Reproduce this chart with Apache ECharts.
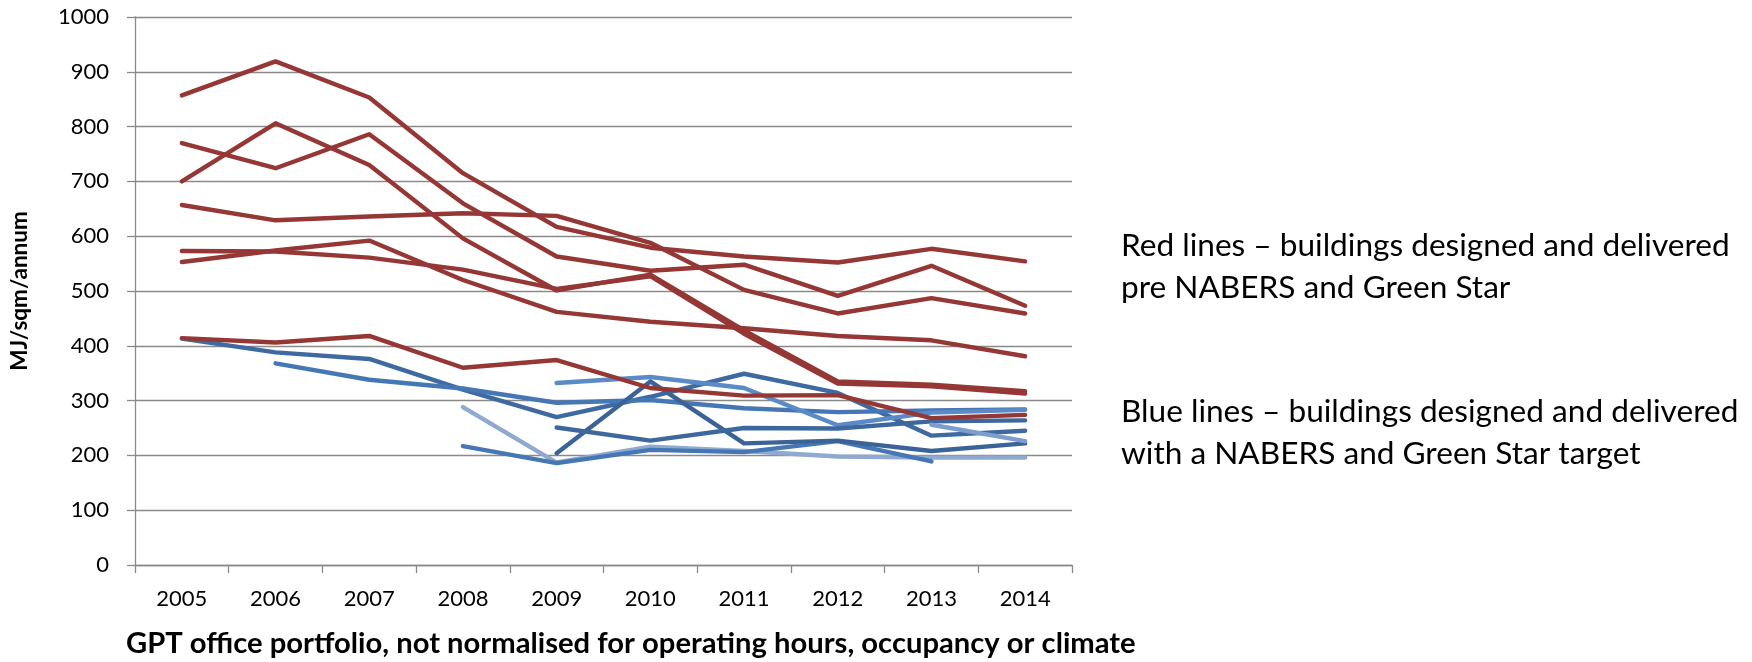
<!DOCTYPE html>
<html>
<head>
<meta charset="utf-8">
<script src="https://cdn.jsdelivr.net/npm/echarts@6/dist/echarts.min.js"></script>
<style>
  html, body { margin: 0; padding: 0; background: #ffffff; }
  #chart { width: 1752px; height: 662px; }
</style>
</head>
<body>
<div id="chart"></div>
<script>
// Energy intensity (MJ/sqm/annum) per building, 2005-2014
const years = ['2005', '2006', '2007', '2008', '2009', '2010', '2011', '2012', '2013', '2014'];

// Buildings designed and delivered pre NABERS and Green Star
const redA = [857, 919, 853, 715, 617, 579, 563, 552, 577, 554];
const redB = [770, 724, 786, 660, 563, 537, 548, 491, 546, 473];
const redC = [657, 629, 636, 642, 637, 588, 502, 459, 487, 459];
const redD = [700, 806, 730, 596, 501, 530, 428, 335, 329, 317];
const redE = [573, 572, 561, 539, 504, 527, 422, 331, 326, 313];
const redF = [553, 574, 592, 520, 462, 444, 432, 418, 410, 381];
const redG = [414, 406, 418, 360, 374, 323, 309, 310, 268, 274];

// Buildings designed and delivered with a NABERS and Green Star target
const blueA = [413, 388, 376, 320, 270, 307, 349, 314, 236, 245];
const blueB = [null, 368, 338, 322, 296, 301, 286, 279, 282, 284];
const blueC = [null, null, null, 288, 187, 216, 208, 198, 196, 196];
const blueD = [null, null, null, 217, 186, 210, 206, 226, 189, null];
const blueE = [null, null, null, null, 332, 343, 323, 255, 278, 283];
const blueF = [null, null, null, null, 204, 335, 222, 227, 208, 222];
const blueG = [null, null, null, null, 251, 227, 250, 249, 262, 264];
const blueH = [null, null, null, null, null, null, null, null, 256, 226];

const yTicks = { min: 0, max: 1000, step: 100 };

const RED = '#953735';
const blueSet = [
  [blueA, '#3e6aa1'],
  [blueB, '#4677b5'],
  [blueC, '#8fa9d1'],
  [blueD, '#4677b5'],
  [blueE, '#5b8bc7'],
  [blueF, '#3a6498'],
  [blueG, '#3d689e'],
  [blueH, '#7d9dcc']
];
const redSet = [redA, redB, redC, redD, redE, redF, redG];

const FONT = 'Lato';
const GRID_COLOR = '#8a8a8a';

function lineSeries(data, color) {
  return {
    type: 'line',
    data: data,
    symbol: 'none',
    connectNulls: false,
    silent: true,
    lineStyle: { color: color, width: 4.4, cap: 'round', join: 'round' }
  };
}

const series = [];
blueSet.forEach(([d, c]) => series.push(lineSeries(d, c)));
redSet.forEach(d => series.push(lineSeries(d, RED)));

const chart = echarts.init(document.getElementById('chart'), null, { renderer: 'canvas' });
chart.setOption({
  animation: false,
  backgroundColor: '#ffffff',
  grid: { left: 124, right: 680, top: 17, bottom: 97, containLabel: false },
  xAxis: {
    type: 'category',
    data: years,
    boundaryGap: true,
    axisLine: { show: true, lineStyle: { color: GRID_COLOR, width: 1.3 } },
    axisTick: { show: true, length: 8, interval: 0, lineStyle: { color: GRID_COLOR, width: 1.3 } },
    axisLabel: { margin: 23, color: '#000000', fontFamily: FONT, fontSize: 22 },
    splitLine: { show: false }
  },
  yAxis: {
    type: 'value',
    min: yTicks.min,
    max: yTicks.max,
    interval: yTicks.step,
    name: 'MJ/sqm/annum',
    nameLocation: 'middle',
    nameRotate: 90,
    nameGap: 104,
    nameTextStyle: { fontFamily: FONT, fontWeight: 'bold', fontSize: 22.5, color: '#000000' },
    axisLine: { show: true, lineStyle: { color: GRID_COLOR, width: 1.3 } },
    axisTick: { show: true, length: 8, lineStyle: { color: GRID_COLOR, width: 1.3 } },
    axisLabel: {
      margin: 26, color: '#000000', fontFamily: FONT, fontSize: 22,
      formatter: v => String(v)
    },
    splitLine: { show: true, lineStyle: { color: GRID_COLOR, width: 1.3 } }
  },
  graphic: [
    {
      type: 'text', left: 126, top: 629,
      style: {
        text: 'GPT office portfolio, not normalised for operating hours, occupancy or climate',
        fontFamily: FONT, fontWeight: 'bold', fontSize: 29.2, fill: '#000000'
      }
    },
    {
      type: 'text', left: 1121, top: 225,
      style: {
        text: 'Red lines \u2013 buildings designed and delivered\npre NABERS and Green Star',
        fontFamily: FONT, fontSize: 31.6, lineHeight: 42, fill: '#000000'
      }
    },
    {
      type: 'text', left: 1121, top: 391,
      style: {
        text: 'Blue lines \u2013 buildings designed and delivered\nwith a NABERS and Green Star target',
        fontFamily: FONT, fontSize: 31.6, lineHeight: 42, fill: '#000000'
      }
    }
  ],
  series: series
});
</script>
</body>
</html>
